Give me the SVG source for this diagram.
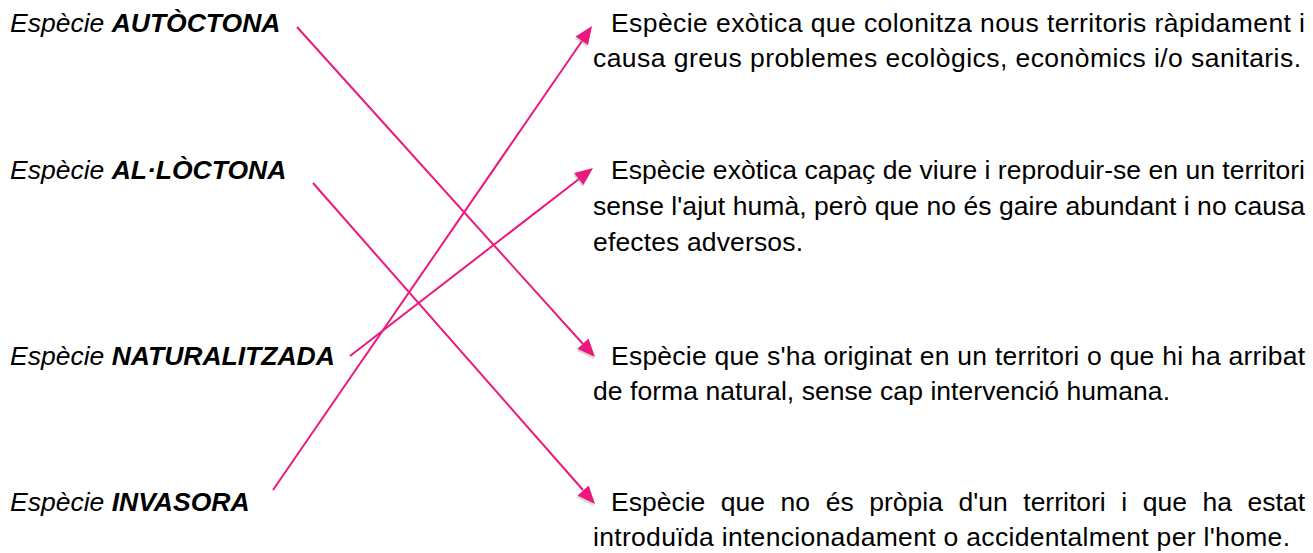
<svg xmlns="http://www.w3.org/2000/svg" width="1313" height="553" viewBox="0 0 1313 553">
<style>
text{font-family:"Liberation Sans",Arial,sans-serif;font-size:26.5px;fill:#000}
.lab{font-style:italic}
.b{font-weight:bold}
.con{stroke:#EC187D;stroke-width:2;fill:none}
.head{fill:#EC187D}
.shd{fill:#777;fill-opacity:0.3}
</style>
<rect width="1313" height="553" fill="#fff"/>
<g id="n-autoctona"><text class="lab" x="10" y="32">Espècie <tspan class="b">AUTÒCTONA</tspan></text></g>
<g id="n-alloctona"><text class="lab" x="10" y="179">Espècie <tspan class="b">AL·LÒCTONA</tspan></text></g>
<g id="n-naturalitzada"><text class="lab" x="10" y="365">Espècie <tspan class="b">NATURALITZADA</tspan></text></g>
<g id="n-invasora"><text class="lab" x="10" y="511">Espècie <tspan class="b">INVASORA</tspan></text></g>
<g id="d-invasora">
<text x="611" y="32" textLength="694" lengthAdjust="spacing">Espècie exòtica que colonitza nous territoris ràpidament i</text>
<text x="593" y="67" textLength="708" lengthAdjust="spacing">causa greus problemes ecològics, econòmics i/o sanitaris.</text>
</g>
<g id="d-naturalitzada">
<text x="611" y="179" textLength="694" lengthAdjust="spacing">Espècie exòtica capaç de viure i reproduir-se en un territori</text>
<text x="593" y="215" textLength="712" lengthAdjust="spacing">sense l'ajut humà, però que no és gaire abundant i no causa</text>
<text x="593" y="251" textLength="210" lengthAdjust="spacing">efectes adversos.</text>
</g>
<g id="d-autoctona">
<text x="611" y="365" textLength="694" lengthAdjust="spacing">Espècie que s'ha originat en un territori o que hi ha arribat</text>
<text x="593" y="400" textLength="577" lengthAdjust="spacing">de forma natural, sense cap intervenció humana.</text>
</g>
<g id="d-alloctona">
<text x="611" y="511" word-spacing="8.2">Espècie que no és pròpia d'un territori i que ha estat</text>
<text x="593" y="546" textLength="697" lengthAdjust="spacing">introduïda intencionadament o accidentalment per l'home.</text>
</g>
<g id="connectors">
<path class="con" d="M297,27 L583,344"/>
<path class="con" d="M313,183 L583,490"/>
<path class="con" d="M350,356 L579,179"/>
<path class="con" d="M273,490 L582,41"/>
<g class="shadows">
<polygon class="shd" points="594,359 576.4,350.7 587.5,340.6"/>
<polygon class="shd" points="594,506 576.5,497.4 587.7,487.5"/>
<polygon class="shd" points="592,170 582.4,186.9 573.2,175.1"/>
<polygon class="shd" points="591,28 587,47.1 574.6,38.6"/>
</g>
<polygon class="head" points="595,357 577.4,348.7 588.5,338.6"/>
<polygon class="head" points="595,504 577.5,495.4 588.7,485.5"/>
<polygon class="head" points="593,168 583.4,184.9 574.2,173.1"/>
<polygon class="head" points="592,26 588,45.1 575.6,36.6"/>
</g>
</svg>
